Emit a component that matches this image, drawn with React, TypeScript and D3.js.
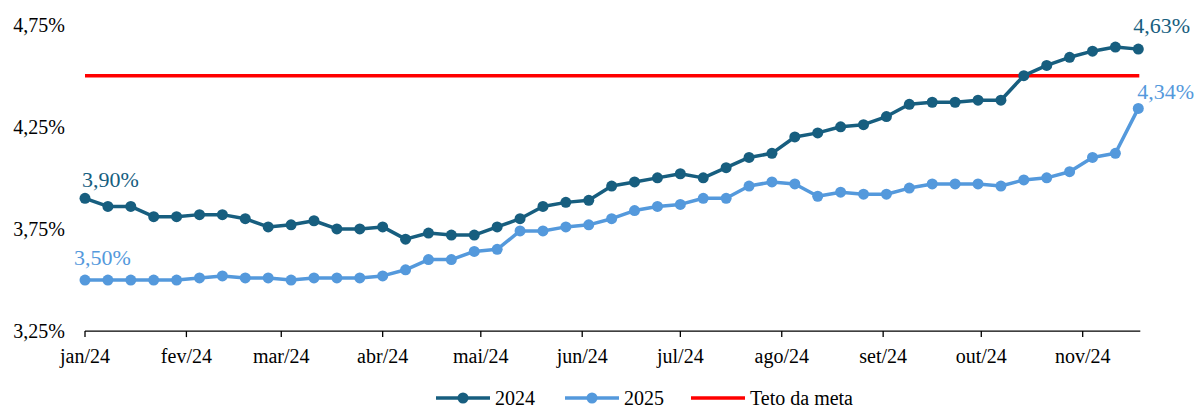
import React from "react";
import * as d3 from "d3";

// Weekly reference dates (Fridays) of the survey
const weekDates: string[] = [
  "2024-01-05", "2024-01-12", "2024-01-19", "2024-01-26", "2024-02-02", "2024-02-09",
  "2024-02-16", "2024-02-23", "2024-03-01", "2024-03-08", "2024-03-15", "2024-03-22",
  "2024-03-29", "2024-04-05", "2024-04-12", "2024-04-19", "2024-04-26", "2024-05-03",
  "2024-05-10", "2024-05-17", "2024-05-24", "2024-05-31", "2024-06-07", "2024-06-14",
  "2024-06-21", "2024-06-28", "2024-07-05", "2024-07-12", "2024-07-19", "2024-07-26",
  "2024-08-02", "2024-08-09", "2024-08-16", "2024-08-23", "2024-08-30", "2024-09-06",
  "2024-09-13", "2024-09-20", "2024-09-27", "2024-10-04", "2024-10-11", "2024-10-18",
  "2024-10-25", "2024-11-01", "2024-11-08", "2024-11-15", "2024-11-22",
];

// Expected inflation (%) for 2024
const ipca2024: number[] = [
  3.90, 3.86, 3.86, 3.81, 3.81, 3.82, 3.82, 3.80, 3.76, 3.77,
  3.79, 3.75, 3.75, 3.76, 3.70, 3.73, 3.72, 3.72, 3.76, 3.80,
  3.86, 3.88, 3.89, 3.96, 3.98, 4.00, 4.02, 4.00, 4.05, 4.10,
  4.12, 4.20, 4.22, 4.25, 4.26, 4.30, 4.36, 4.37, 4.37, 4.38,
  4.38, 4.50, 4.55, 4.59, 4.62, 4.64, 4.63,
];

// Expected inflation (%) for 2025
const ipca2025: number[] = [
  3.50, 3.50, 3.50, 3.50, 3.50, 3.51, 3.52, 3.51, 3.51, 3.50,
  3.51, 3.51, 3.51, 3.52, 3.55, 3.60, 3.60, 3.64, 3.65, 3.74,
  3.74, 3.76, 3.77, 3.80, 3.84, 3.86, 3.87, 3.90, 3.90, 3.96,
  3.98, 3.97, 3.91, 3.93, 3.92, 3.92, 3.95, 3.97, 3.97, 3.97,
  3.96, 3.99, 4.00, 4.03, 4.10, 4.12, 4.34,
];

// Upper bound of the inflation target
const tetoDaMeta = 4.5;

const yTicks: number[] = [3.25, 3.75, 4.25, 4.75];
const monthTicks: string[] = [
  "2024-01-05", "2024-02-05", "2024-03-05", "2024-04-05", "2024-05-05", "2024-06-05",
  "2024-07-05", "2024-08-05", "2024-09-05", "2024-10-05", "2024-11-05",
];
const monthNames: string[] = ["jan", "fev", "mar", "abr", "mai", "jun", "jul", "ago", "set", "out", "nov", "dez"];

const seriesLabels: string[] = ["2024", "2025", "Teto da meta"];

const W = 1203;
const H = 408;
const C2024 = "#175E7F";
const C2025 = "#5499DC";
const CRED = "#FF0000";
const FONT = "'Liberation Serif', 'Times New Roman', serif";

const parse = d3.utcParse("%Y-%m-%d");

export default function App() {
  const dates = weekDates.map((d) => parse(d) as Date);
  const x = d3
    .scaleUtc()
    .domain([dates[0], dates[dates.length - 1]])
    .range([85, 1138.3]);
  const y = d3.scaleLinear().domain([3.25, 4.75]).range([331.1, 24.6]);

  const fmtPct = (v: number) => v.toFixed(2).replace(".", ",") + "%";
  const fmtMonth = (d: Date) =>
    `${monthNames[d.getUTCMonth()]}/${String(d.getUTCFullYear()).slice(2)}`;

  const line = d3
    .line<number>()
    .x((_, i) => x(dates[i]))
    .y((v) => y(v));

  const series = [
    { name: seriesLabels[0], values: ipca2024, color: C2024 },
    { name: seriesLabels[1], values: ipca2025, color: C2025 },
  ];

  const last = dates.length - 1;
  const axisY = y(3.25);
  const legendY = 398;

  return (
    <svg
      width={W}
      height={H}
      style={{ position: "absolute", left: 0, top: 0, background: "#fff" }}
      fontFamily={FONT}
    >
      {/* y tick labels */}
      {yTicks.map((t) => (
        <text key={t} x={65} y={y(t)} dy="0.35em" textAnchor="end" fontSize={20} fill="#000">
          {fmtPct(t)}
        </text>
      ))}

      {/* x axis */}
      <line x1={x(dates[0])} x2={x(dates[last]) + 2} y1={axisY} y2={axisY} stroke="#000" strokeWidth={1.3} />
      {monthTicks.map((m) => {
        const d = parse(m) as Date;
        const px = x(d);
        return (
          <g key={m}>
            <line x1={px} x2={px} y1={axisY} y2={axisY + 6} stroke="#000" strokeWidth={1.3} />
            <text x={px} y={axisY + 32} textAnchor="middle" fontSize={20} fill="#000">
              {fmtMonth(d)}
            </text>
          </g>
        );
      })}

      {/* target ceiling */}
      <line
        x1={x(dates[0])}
        x2={x(dates[last]) + 1}
        y1={y(tetoDaMeta)}
        y2={y(tetoDaMeta)}
        stroke={CRED}
        strokeWidth={3.5}
      />

      {/* series */}
      {series.map((s) => (
        <g key={s.name}>
          <path d={line(s.values) ?? ""} fill="none" stroke={s.color} strokeWidth={3.5} strokeLinejoin="round" />
          {s.values.map((v, i) => (
            <circle key={i} cx={x(dates[i])} cy={y(v)} r={5.5} fill={s.color} />
          ))}
        </g>
      ))}

      {/* first / last value labels */}
      <text x={x(dates[0]) - 3} y={y(ipca2024[0]) - 11} fontSize={22} fill={C2024}>
        {fmtPct(ipca2024[0])}
      </text>
      <text x={x(dates[0]) - 11} y={y(ipca2025[0]) - 15} fontSize={22} fill={C2025}>
        {fmtPct(ipca2025[0])}
      </text>
      <text x={x(dates[last]) - 5} y={y(ipca2024[last]) - 16} fontSize={22} fill={C2024}>
        {fmtPct(ipca2024[last])}
      </text>
      <text x={x(dates[last]) - 1} y={y(ipca2025[last]) - 9} fontSize={22} fill={C2025}>
        {fmtPct(ipca2025[last])}
      </text>

      {/* legend */}
      {[
        { label: seriesLabels[0], color: C2024, x0: 436, marker: true },
        { label: seriesLabels[1], color: C2025, x0: 565, marker: true },
        { label: seriesLabels[2], color: CRED, x0: 691, marker: false },
      ].map((l) => (
        <g key={l.label}>
          <line x1={l.x0} x2={l.x0 + 54} y1={legendY} y2={legendY} stroke={l.color} strokeWidth={3.5} />
          {l.marker && <circle cx={l.x0 + 27} cy={legendY} r={5.5} fill={l.color} />}
          <text x={l.x0 + 59} y={legendY} dy="0.33em" fontSize={20} fill="#000">
            {l.label}
          </text>
        </g>
      ))}
    </svg>
  );
}
